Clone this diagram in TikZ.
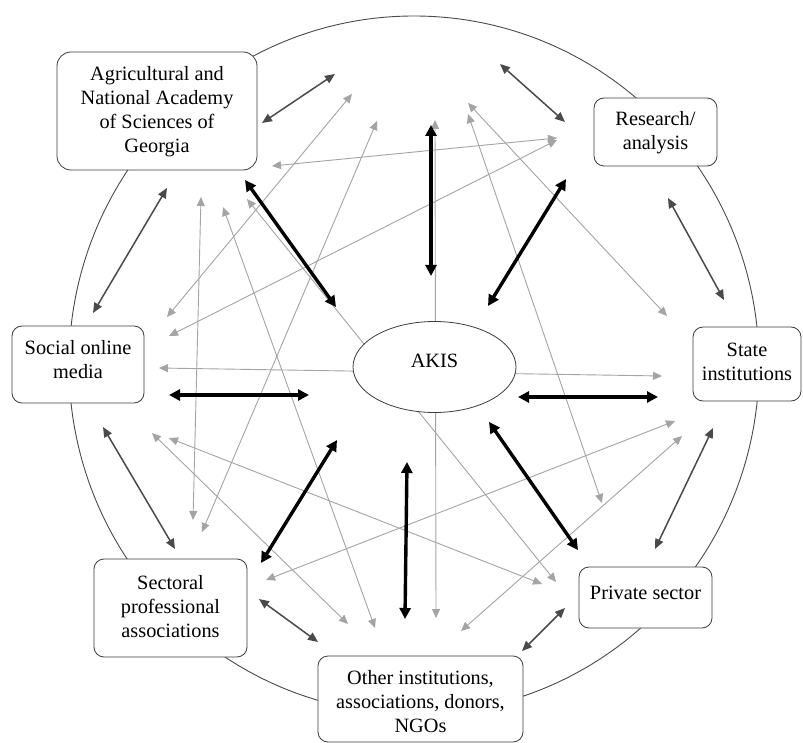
\documentclass[tikz,border=0pt]{standalone}
\usepackage{fontspec}
\setmainfont{Liberation Serif}
\usetikzlibrary{arrows.meta,shapes.geometric}
\definecolor{ltgray}{HTML}{A4A4A4}
\definecolor{dkgray}{HTML}{4A4A4A}
\definecolor{edgegray}{HTML}{3C3C3C}
\begin{document}
\begin{tikzpicture}[x=1pt,y=-1pt,
  box/.style={draw=edgegray, fill=white, line width=0.8pt, rounded corners=10pt, inner sep=0pt},
  txt/.style={align=center, inner sep=0pt, font=\fontsize{20.3}{24}\selectfont},
  ltarr/.style={draw=ltgray, line width=0.9pt, {Triangle[length=9pt,width=8pt]}-{Triangle[length=9pt,width=8pt]}},
  dkarr/.style={draw=dkgray, line width=1.5pt, {Triangle[length=10pt,width=8.5pt]}-{Triangle[length=10pt,width=8.5pt]}},
  thkarr/.style={draw=black, line width=3.4pt, {Triangle[length=11pt,width=11pt]}-{Triangle[length=11pt,width=11pt]}}]
\useasboundingbox (0,0) rectangle (803,743);
\fill[white] (0,0) rectangle (803,743);
% outer ring
\draw[draw=dkgray, line width=0.9pt] (414,365) ellipse [x radius=345pt, y radius=349pt];
% light grey links
\foreach \n/\a/\b in {l1/{352,94}/{167,317}, l2/{377,121}/{202,532}, l3/{272,166}/{557,138},
  l4/{201,197}/{193,520}, l5/{223,207}/{375,628}, l6/{247,199}/{556,582}, l7/{169,336}/{557,140},
  l8/{159,368}/{662,376}, l9/{435,120}/{436,618}, l10/{468,103}/{667,316}, l11/{468,114}/{602,503},
  l12/{152,433}/{348,624}, l13/{169,438}/{542,584}, l14/{266,580}/{675,421}, l15/{682,436}/{461,631}}
{ \coordinate (\n a) at (\a); \coordinate (\n b) at (\b); \draw[ltarr] (\n a) -- (\n b); }
% AKIS
\node[draw=edgegray, fill=white, ellipse, line width=0.8pt, minimum width=163pt, minimum height=91pt, inner sep=0pt] (akis) at (434.5,367) {};
\node[txt] (akist) at (434.5,360.5) {AKIS};
% dark grey ring links
\foreach \n/\a/\b in {d1/{262,123}/{335,74}, d2/{500,64}/{565,122}, d3/{167,188}/{93,313},
  d4/{668,198}/{724,300}, d5/{103,427}/{175,549}, d6/{713,428}/{655,549},
  d7/{259,599}/{318,642}, d8/{565,608}/{522,651}}
{ \coordinate (\n a) at (\a); \coordinate (\n b) at (\b); \draw[dkarr] (\n a) -- (\n b); }
% thick AKIS links
\foreach \n/\a/\b in {k1/{431,125}/{431,276}, k2/{245,180}/{336,307}, k3/{566,179}/{488,306},
  k4/{169,395}/{309,395}, k5/{518,397}/{658,397}, k6/{337,440}/{261,563},
  k7/{489,422}/{578,550}, k8/{407,462}/{405,619}}
{ \coordinate (\n a) at (\a); \coordinate (\n b) at (\b); \draw[thkarr] (\n a) -- (\n b); }
% boxes
\node[box, rounded corners=14pt, minimum width=200pt, minimum height=118pt] (agri) at (157,111) {};
\node[txt] (agrit) at (157,111.5) {Agricultural and\\National Academy\\of Sciences of\\Georgia};
\node[box, minimum width=123pt, minimum height=68pt] (res) at (655.5,132) {};
\node[txt] (rest) at (655.5,133) {Research/\\analysis};
\node[box, minimum width=132pt, minimum height=77pt] (soc) at (78,364.5) {};
\node[txt] (soct) at (78,360) {Social online\\media};
\node[box, minimum width=108pt, minimum height=74pt] (state) at (747,364) {};
\node[txt] (statet) at (747,362) {State\\institutions};
\node[box, minimum width=153pt, minimum height=98pt] (sect) at (170.5,608) {};
\node[txt] (sectt) at (170.5,607) {Sectoral\\professional\\associations};
\node[box, minimum width=133pt, minimum height=61pt] (priv) at (645.5,597.5) {};
\node[txt] (privt) at (645.5,593) {Private sector};
\node[box, minimum width=205pt, minimum height=86pt] (other) at (420.5,699) {};
\node[txt] (othert) at (420.5,702) {Other institutions,\\associations, donors,\\NGOs};
\end{tikzpicture}
\end{document}
